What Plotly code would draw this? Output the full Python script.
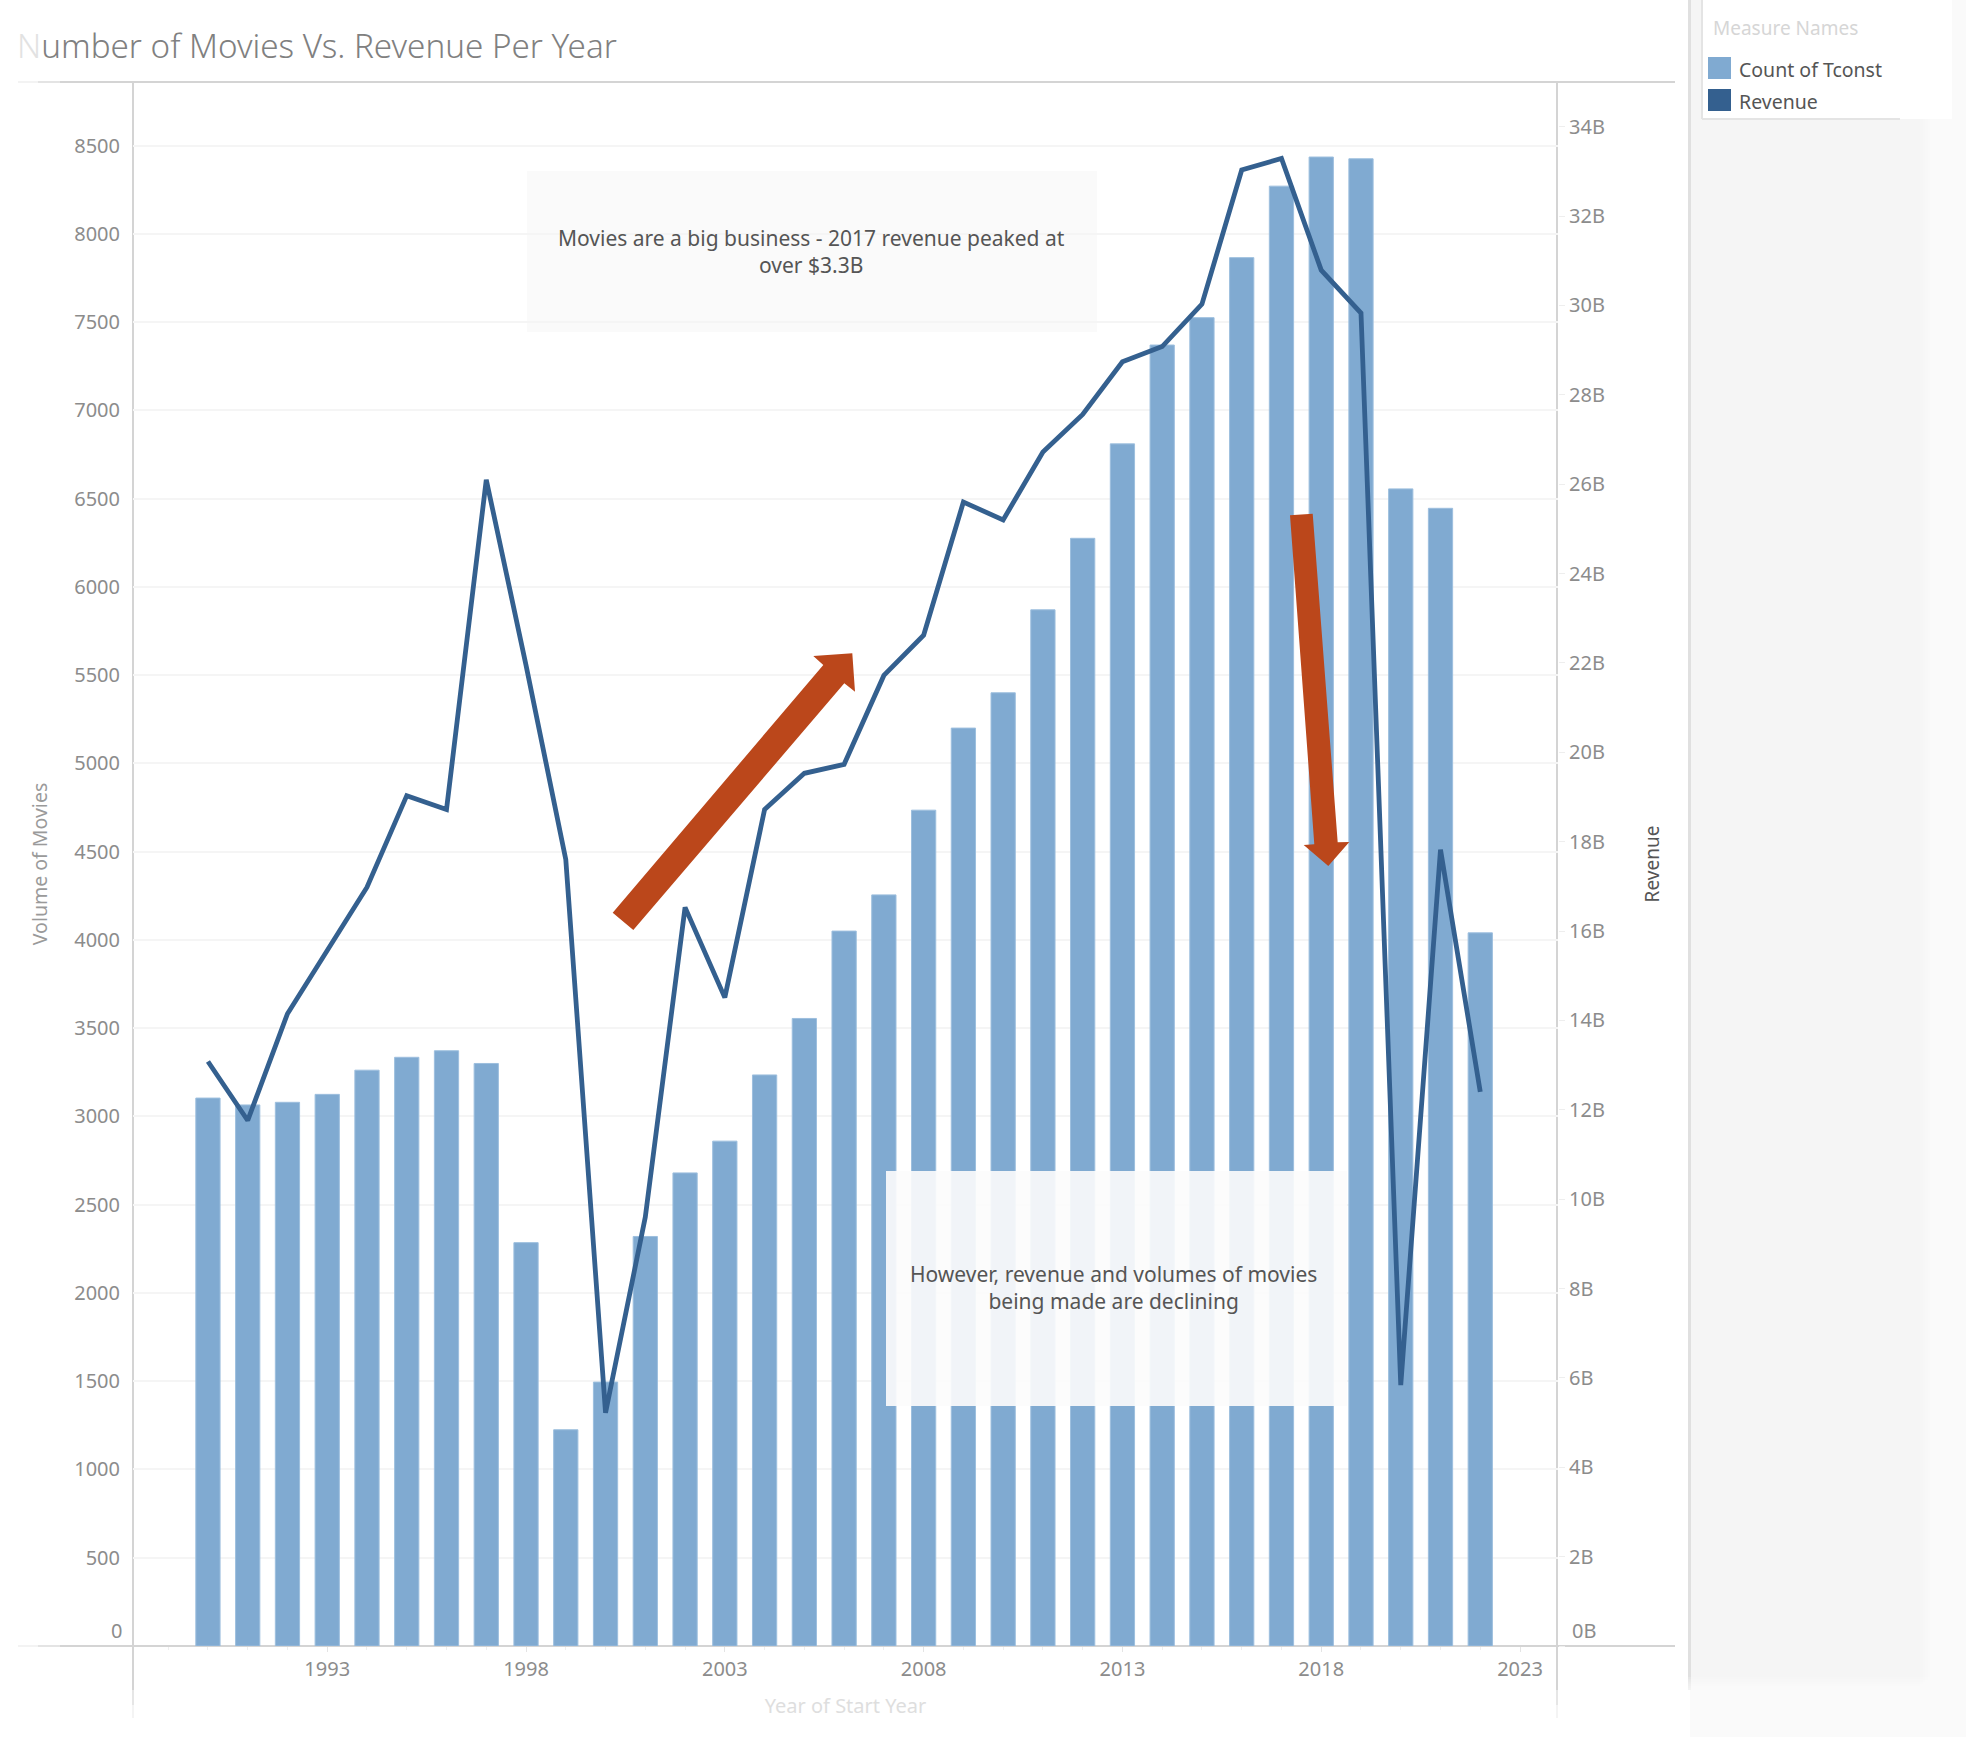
import plotly.graph_objects as go

years = list(range(1990, 2023))
movie_counts = [3104, 3065, 3080, 3125, 3262, 3335, 3372, 3300, 2285, 1225, 1495, 2320,
                2680, 2860, 3235, 3555, 4050, 4255, 4735, 5200, 5400, 5870, 6275, 6810,
                7370, 7525, 7865, 8270, 8435, 8425, 6555, 6445, 4040]
revenue_b = [13.08, 11.76, 14.15, 15.58, 16.98, 19.03, 18.72, 26.1, 21.95, 17.6, 5.22, 9.6,
             16.53, 14.51, 18.72, 19.53, 19.73, 21.72, 22.62, 25.6, 25.2, 26.72, 27.56, 28.74,
             29.08, 30.03, 33.03, 33.29, 30.79, 29.83, 5.84, 17.82, 12.4]
left_ticks = list(range(0, 8501, 500))
right_ticks = list(range(0, 35, 2))
x_ticks = [1993, 1998, 2003, 2008, 2013, 2018, 2023]

W, H = 1966, 1737
L, R, T, B = 133, 1558, 82, 1646
FONT = "Noto Sans"
BAR = "#80aad1"
LINE = "#34608f"
RED = "#bb471b"


def px(x):
    return (x - L) / (R - L)


def py(y):
    return (B - y) / (B - T)


def rect(x0, y0, x1, y1, fill, layer="below"):
    return dict(type="rect", xref="paper", yref="paper", x0=px(x0), x1=px(x1), y0=py(y0), y1=py(y1),
                fillcolor=fill, line=dict(width=0), layer=layer)


def seg(x0, y0, x1, y1, color, width=2, layer="below"):
    return dict(type="line", xref="paper", yref="paper", x0=px(x0), x1=px(x1), y0=py(y0), y1=py(y1),
                line=dict(color=color, width=width), layer=layer)


def poly(points, fill):
    d = "M " + " L ".join(f"{px(a):.5f} {py(b):.5f}" for a, b in points) + " Z"
    return dict(type="path", xref="paper", yref="paper", path=d, fillcolor=fill, line=dict(width=0), layer="above")


def note(text, x, y, size, color, xanchor="left", textangle=0):
    return dict(text=text, xref="paper", yref="paper", x=px(x), y=py(y), showarrow=False,
                font=dict(family=FONT, size=size, color=color), xanchor=xanchor, yanchor="middle",
                textangle=textangle, align="center")


fig = go.Figure()
fig.add_trace(go.Bar(x=years, y=movie_counts, name="Count of Tconst", marker_color=BAR,
                     marker_line=dict(color="#9dbfde", width=1), width=0.61, yaxis="y"))
fig.add_trace(go.Scatter(x=years, y=revenue_b, name="Revenue", mode="lines",
                         line=dict(color=LINE, width=4.8), yaxis="y2"))

shapes = []
# right panel with soft fading edges
shapes.append(rect(1690, 0, W, H, "#f5f5f5"))
shapes.append(rect(1688, 0, 1691, 1690, "#e0e0e0"))
for i in range(14):
    shapes.append(rect(1920 + i * 2.5, 0, W, H, "rgba(255,255,255,0.16)"))
    shapes.append(rect(1686, 1677 + i * 2.2, W, H, "rgba(255,255,255,0.16)"))
# legend card
shapes.append(rect(1702, 0, 1952, 119, "#ffffff"))
shapes.append(seg(1702, 0, 1702, 119, "#e4e4e4"))
shapes.append(seg(1702, 119, 1900, 119, "#e4e4e4"))
shapes.append(rect(1708, 57, 1731, 79, BAR))
shapes.append(rect(1708, 89, 1731, 111, LINE))
# frame lines with fading ends
for yy in (T, B):
    shapes.append(seg(60, yy, 1675, yy, "#d4d4d4", 2))
    shapes.append(seg(38, yy, 60, yy, "#e4e4e4", 2))
    shapes.append(seg(18, yy, 38, yy, "#f3f3f3", 2))
for xx in (L, R - 1):
    shapes.append(seg(xx, T, xx, 1690, "#d4d4d4", 2))
    shapes.append(seg(xx, 1690, xx, 1705, "#e6e6e6", 2))
    shapes.append(seg(xx, 1705, xx, 1718, "#f4f4f4", 2))
# comment boxes
shapes.append(rect(527, 171, 1097, 332, "#fafafa"))
shapes.append(rect(886, 1171, 1347, 1406, "rgba(252,252,252,0.91)", layer="above"))
# arrows
shapes.append(poly([(612.7, 912.7), (823.3, 665), (813.3, 656), (852.3, 653.3), (855, 691.7),
                    (844.3, 683.3), (633.3, 930)], RED))
shapes.append(poly([(1290, 515.3), (1312.7, 513.7), (1337.7, 842.3), (1349.3, 842), (1328.3, 866),
                    (1303.7, 845), (1314.3, 844.3)], RED))

annotations = [
    note("Movies are a big business - 2017 revenue peaked at<br>over $3.3B", 811, 251, 21, "#555555", "center"),
    note("However, revenue and volumes of movies<br>being made are declining", 1113, 1287, 21, "#555555", "center"),
    note("Measure Names", 1711, 28, 19, "#d6d6d6"),
    note("Count of Tconst", 1737, 69, 19.5, "#555555"),
    note("Revenue", 1737, 101, 19.5, "#555555"),
    note("0", 124, 1630, 20, "#8c8c8c", "right"),
    note("0B", 1570, 1630, 20, "#8c8c8c", "left"),
]

fig.update_layout(
    width=W, height=H, autosize=False,
    margin=dict(l=L, r=W - R, t=T, b=H - B),
    paper_bgcolor="#ffffff", plot_bgcolor="rgba(0,0,0,0)",
    showlegend=False, shapes=shapes, annotations=annotations,
    bargap=0.39,
    title=dict(text='<span style="color:#e2e2e2">N</span>umber of Movies Vs. Revenue Per Year',
               xref="container", x=17 / W, xanchor="left", yref="container", y=1 - 46 / H, yanchor="middle",
               font=dict(family=FONT, size=33.2, color="#808080", weight=300)),
    xaxis=dict(range=[1988.115, 2023.955], tickmode="array", tickvals=x_ticks, ticks="outside", ticklen=5,
               tickcolor="#e4e4e4", showgrid=False, zeroline=False, showline=False,
               tickfont=dict(family=FONT, size=20, color="#8c8c8c"),
               minor=dict(tickmode="linear", tick0=1993, dtick=1, ticks="outside", ticklen=3, tickcolor="#eeeeee", showgrid=False),
               title=dict(text="Year of Start Year", standoff=17, font=dict(family=FONT, size=20, color="#dedede"))),
    yaxis=dict(range=[0, 8860], tickmode="array", tickvals=left_ticks,
               ticktext=[""] + [str(v) for v in left_ticks[1:]],
               ticks="outside", ticklen=8, tickcolor="rgba(0,0,0,0)", showline=False,
               gridcolor="#f5f5f5", gridwidth=2, zeroline=False,
               tickfont=dict(family=FONT, size=20, color="#8c8c8c"),
               title=dict(text="Volume of Movies", standoff=21, font=dict(family=FONT, size=19.5, color="#9a9a9a"))),
    yaxis2=dict(range=[0, 35.0], overlaying="y", side="right", tickmode="array", tickvals=right_ticks,
                ticktext=[""] + [f"{v}B" for v in right_ticks[1:]],
                ticks="outside", ticklen=6, tickcolor="#eeeeee", showgrid=False, zeroline=False, showline=False,
                tickfont=dict(family=FONT, size=20, color="#8c8c8c"),
                title=dict(text="Revenue", standoff=41, font=dict(family=FONT, size=19, color="#555555"))),
)

fig.write_html("out.html", post_script="document.body.style.margin='0';", config={"displayModeBar": False})
